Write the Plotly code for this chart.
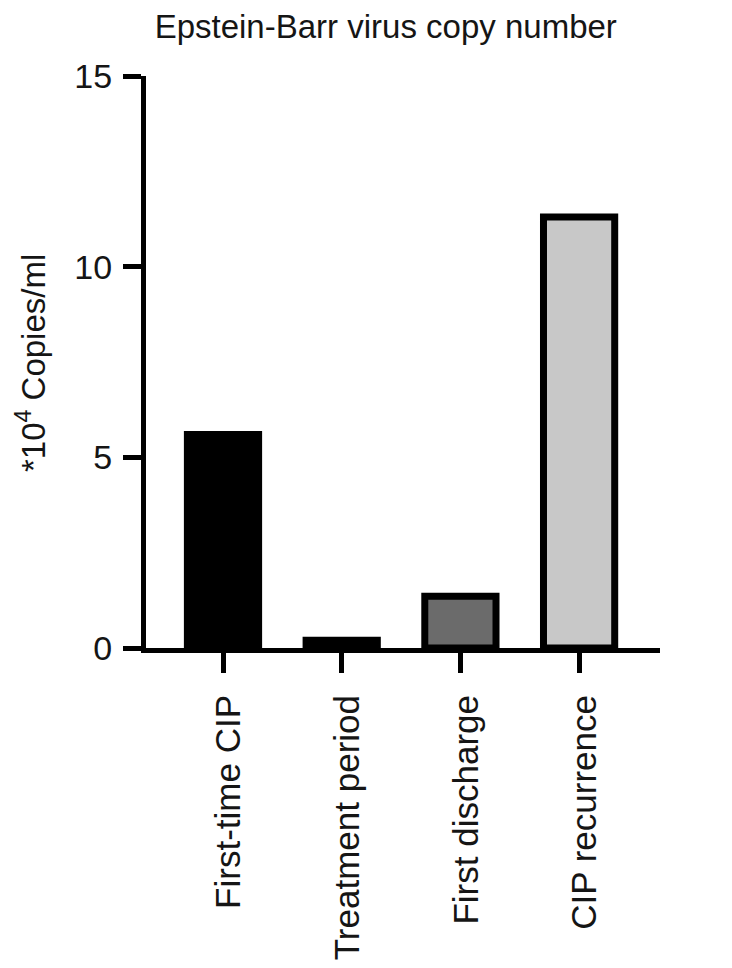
import plotly.graph_objects as go

categories = ["First-time CIP", "Treatment period", "First discharge", "CIP recurrence"]
values = [5.6, 0.2, 1.36, 11.3]
bar_colors = ["#000000", "#000000", "#6b6b6b", "#c8c8c8"]
y_ticks = [0, 5, 10, 15]

FONT = "Liberation Sans, Arial, Helvetica, sans-serif"
TXT = "#151515"

fig = go.Figure()
fig.add_trace(go.Bar(
    x=list(range(len(categories))),
    y=values,
    width=0.6,
    marker=dict(color=bar_colors, line=dict(color="#000000", width=7)),
    showlegend=False,
))

L = 146
W = 660 - L
fig.update_layout(
    width=732, height=968,
    margin=dict(l=L, r=72, t=76, b=320),
    paper_bgcolor="white", plot_bgcolor="white",
    font=dict(family=FONT, color=TXT),
    title=dict(text="Epstein-Barr virus copy number", font=dict(size=33, family=FONT, color=TXT),
               xref="container", x=0.527, xanchor="center",
               yref="container", y=1 - 26 / 968, yanchor="middle"),
    xaxis=dict(
        range=[-(223 - L) / 118.7, -(223 - L) / 118.7 + W / 118.7], automargin=False,
        tickmode="array", tickvals=list(range(len(categories))), ticktext=categories,
        tickangle=-90, tickfont=dict(size=35, family=FONT, color=TXT),
        ticks="outside", ticklen=20, tickwidth=5, tickcolor="black",
        showline=True, linewidth=5, linecolor="black",
        showgrid=False, zeroline=False, ticklabelstandoff=8, ticklabelshift=6,
    ),
    yaxis=dict(
        range=[0, 15], automargin=False,
        tickmode="array", tickvals=y_ticks, ticktext=[str(v) for v in y_ticks],
        tickfont=dict(size=34, family=FONT, color=TXT),
        ticks="outside", ticklen=18, tickwidth=5, tickcolor="black",
        showline=True, linewidth=5, linecolor="black",
        showgrid=False, zeroline=False, ticklabelstandoff=4,
    ),
    annotations=[dict(
        text="*10<sup>4</sup> Copies/ml", textangle=-90,
        xref="paper", yref="paper",
        x=(31 - L) / W, y=(648 - 363) / 572,
        xanchor="center", yanchor="middle", showarrow=False,
        font=dict(size=33, family=FONT, color=TXT),
    )],
)

fig.write_html("out.html", config={"displayModeBar": False},
               post_script="document.body.style.margin='0';document.body.style.overflow='hidden';")
